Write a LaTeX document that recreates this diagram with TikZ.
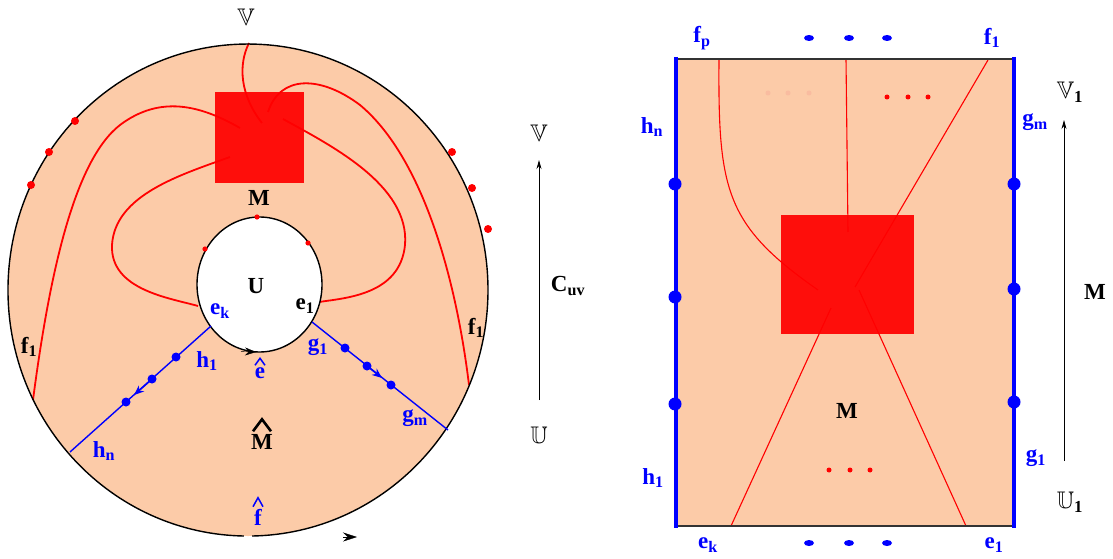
\documentclass[tikz,border=0pt]{standalone}
\usepackage{amssymb}
\usepackage{fontspec}
\setmainfont{Liberation Serif}
\usetikzlibrary{arrows.meta}
\definecolor{peach}{RGB}{252,203,168}
\definecolor{paledot}{RGB}{249,188,160}
\tikzset{
  lbl/.style={font=\fontsize{23}{25}\selectfont\bfseries, inner sep=0pt},
  blbl/.style={lbl, text=blue},
  bblbl/.style={font=\fontsize{24}{26}\selectfont, inner sep=0pt},
  redcurve/.style={red, line width=1.8pt},
  redline/.style={red, line width=1.1pt},
  bluepath/.style={blue, line width=1.4pt},
  thinarrow/.style={line width=0.8pt, -{Stealth[length=9pt,width=5pt]}},
  hatmark/.style={line width=1.5pt, miter limit=20},
}

\begin{document}
\begin{tikzpicture}[x=1pt,y=-1pt]
            \useasboundingbox (0,0) rectangle (1113,559);

            % 左图: 圆盘
            \fill[peach] (248,290) ellipse [x radius=240, y radius=246];

            % 端点
            \coordinate (top) at (249,43);
            \coordinate (fL) at (33,400);
            \coordinate (fR) at (469,385);
            \coordinate (inL) at (198,306);
            \coordinate (inR) at (319,302);

            % 红色曲线
            \draw[redcurve] (top) .. controls (238,65) and (240,95) .. (262,123);
            \draw[redcurve] (268,112) .. controls (280,75) and (320,75) .. (360,105)
                .. controls (420,155) and (455,270) .. (fR);
            \draw[redcurve] (240,128) .. controls (200,105) and (160,95) .. (120,125)
                .. controls (75,160) and (50,270) .. (fL);
            \draw[redcurve] (283,119) .. controls (330,145) and (410,185) .. (405,245)
                .. controls (400,295) and (345,298) .. (inR);
            \draw[redcurve] (230,157) .. controls (180,175) and (115,195) .. (112,245)
                .. controls (110,290) and (170,298) .. (inL);

            % 红色方块
            \fill[red, fill opacity=0.93] (215,92) rectangle (304,183);

            % 外边界 (底部留缺口)
            \draw[line width=1.4pt] (243.8,536) arc[start angle=91, end angle=449, x radius=240, y radius=246];

            % 内圆
            \filldraw[fill=white, draw=black, line width=1.4pt] (259.5,284.5) ellipse [x radius=62.5, y radius=67.5];
            \draw[-{Stealth[length=11pt,width=8pt]}] (241,351.3) -- (256,352);

            % 外边界上的红点
            \foreach \p in {(75,121),(49,152),(31,185),(452,152),(472,188),(488,229)}
                \fill[red] \p circle (4);
            \foreach \p in {(257,217),(205,249),(308,243)}
                \fill[red] \p circle (2.6);

            % 蓝色线段
            \coordinate (hA) at (211,326);
            \coordinate (hB) at (70,452);
            \coordinate (gA) at (312,322);
            \coordinate (gB) at (448,430);
            \draw[bluepath] (hA) -- (hB);
            \draw[bluepath] (gA) -- (gB);
            \foreach \p in {(176,357),(152,379),(126,402),(345,348),(367,366),(391,385)}
                \fill[blue] \p circle (4.5);
            \draw[bluepath, -{Stealth[length=10pt,width=8pt]}] (150,381) -- (134,395);
            \draw[bluepath, -{Stealth[length=10pt,width=8pt]}] (367,366) -- (382,378);

            % 底部箭头
            \draw[-{Stealth[length=14pt,width=9pt]}] (343,537) -- (357,537);

            % 左图标注
            \node[bblbl] (Vtop) at (246,17) {$\mathbb{V}$};
            \node[lbl] (Mlab) at (259,198) {M};
            \node[lbl] (Ulab) at (256,286) {U};
            \node[blbl] (ek) at (220,311) {e\textsubscript{k}};
            \node[lbl] (e1) at (305,306) {e\textsubscript{1}};
            \node[blbl] (h1) at (207,361) {h\textsubscript{1}};
            \node[blbl] (g1) at (318,347) {g\textsubscript{1}};
            \node[blbl] (hn) at (104,451) {h\textsubscript{n}};
            \node[blbl] (gm) at (415,418) {g\textsubscript{m}};
            \node[lbl] (fl) at (29,347) {f\textsubscript{1}};
            \node[lbl] (fr) at (476,328) {f\textsubscript{1}};
            \node[blbl] (ehat) at (260,373) {e};
            \node[lbl] (Mhat) at (262,442) {M};
            \node[blbl] (fhat) at (258,517) {f};

            % 帽子
            \draw[hatmark, blue] ([shift={(-5,-2)}]ehat.north) -- ++(5,-7) -- ++(5,7);
            \draw[hatmark, line width=2.6pt] ([shift={(-9,-3)}]Mhat.north) -- ++(9,-12) -- ++(9,12);
            \draw[hatmark, blue] ([shift={(-5,-2)}]fhat.north) -- ++(5,-9) -- ++(5,9);

            % 中间箭头
            \node[bblbl] (Vmid) at (539,133) {$\mathbb{V}$};
            \node[bblbl] (Umid) at (539,435) {$\mathbb{U}$};
            \coordinate (cBot) at (539,400);
            \coordinate (cTop) at (539,160);
            \draw[thinarrow] (cBot) -- (cTop);
            \node[lbl] (Cuv) at (568,286) {C\textsubscript{uv}};

            % 右图: 矩形
            \fill[peach] (676,59) rectangle (1014,526);
            \draw[redline] (719,59) .. controls (718,190) and (725,225) .. (818,290);
            \draw[redline] (846,59) -- (848,232);
            \draw[redline] (988,60) -- (855,287);
            \draw[redline] (731,526) -- (831,308);
            \draw[redline] (966,526) -- (859,290);
            \fill[red, fill opacity=0.93] (781,215) rectangle (914,334);
            \draw[line width=1.3pt, black!80] (676,59) -- (1014,59);
            \draw[line width=1.3pt, black!80] (676,526) -- (1014,526);
            \draw[blue, line width=4pt] (676,57) -- (676,528);
            \draw[blue, line width=4pt] (1014,57) -- (1014,528);

            % 点
            \foreach \y in {184,297,404} \fill[blue] (675,\y) circle (6.5);
            \foreach \y in {184,289,402} \fill[blue] (1014,\y) circle (6.5);
            \foreach \x in {809,849,887} {
                \fill[blue] (\x,38) ellipse [x radius=5, y radius=3];
                \fill[blue] (\x,543) ellipse [x radius=5, y radius=3];
            }
            \foreach \x in {768,788,809} \fill[paledot] (\x,93) circle (2.5);
            \foreach \x in {887,908,928} \fill[red] (\x,97) circle (2.5);
            \foreach \x in {829,850,870} \fill[red] (\x,470) circle (2.5);

            % 右图标注
            \node[blbl] (fp) at (702,38) {f\textsubscript{p}};
            \node[blbl] (f1) at (992,38) {f\textsubscript{1}};
            \node[blbl] (ekr) at (708,545) {e\textsubscript{k}};
            \node[blbl] (e1r) at (994,545) {e\textsubscript{1}};
            \node[blbl] (hnr) at (652,127) {h\textsubscript{n}};
            \node[blbl] (h1r) at (653,478) {h\textsubscript{1}};
            \node[blbl] (gmr) at (1035,122) {g\textsubscript{m}};
            \node[blbl] (g1r) at (1036,458) {g\textsubscript{1}};
            \node[lbl] (Mrect) at (847,411) {M};

            % 右侧箭头
            \node[bblbl] (V1) at (1070,92) {$\mathbb{V}$\textsubscript{\bfseries 1}};
            \node[bblbl] (U1) at (1070,502) {$\mathbb{U}$\textsubscript{\bfseries 1}};
            \coordinate (rBot) at (1064,461);
            \coordinate (rTop) at (1064,120);
            \draw[thinarrow] (rBot) -- (rTop);
            \node[lbl] (Mside) at (1095,292) {M};
        \end{tikzpicture}
\end{document}
